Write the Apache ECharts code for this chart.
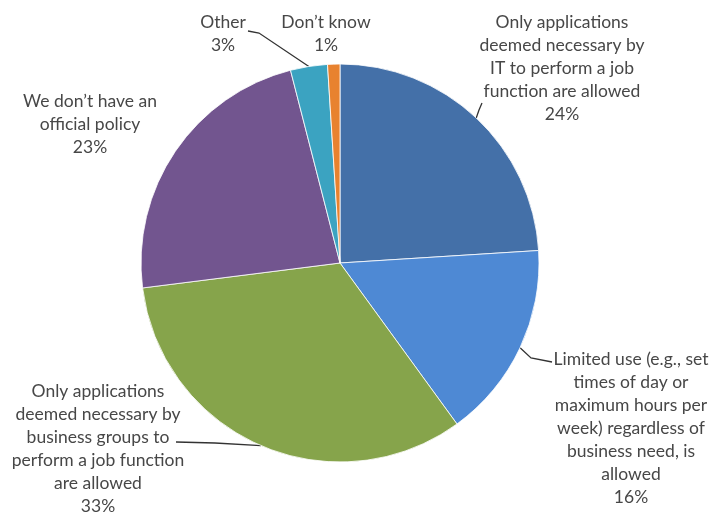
<!DOCTYPE html>
<html>
<head>
<meta charset="utf-8">
<script src="https://cdn.jsdelivr.net/npm/echarts@6/dist/echarts.min.js"></script>
<style>html,body{margin:0;padding:0;background:#fff;}#c{width:716px;height:514px;}</style>
</head>
<body>
<div id="c"></div>
<script>
var categories = [
  "Only applications\ndeemed necessary by\nIT to perform a job\nfunction are allowed",
  "Limited use (e.g., set\ntimes of day or\nmaximum hours per\nweek) regardless of\nbusiness need, is\nallowed",
  "Only applications\ndeemed necessary by\nbusiness groups to\nperform a job function\nare allowed",
  "We don\u2019t have an\nofficial policy",
  "Other",
  "Don\u2019t know"
];
var values = [24, 16, 33, 23, 3, 1];
var colors = ["#4470A8", "#4E89D4", "#86A44B", "#72558F", "#3BA3C1", "#E8822F"];
var showLine = [true, true, true, false, true, false];
// label block placement: [center x, top y]
var labelPos = [[562, 11], [631, 348], [98, 380], [90, 90], [223, 11], [326, 11]];
// label-line bend and end points (null = no line)
var lineBend = [[479, 110], [531, 358], [215, 443], [259, 33], null, null];
var lineEnd = [[482, 103], [552, 362], [176, 442], [248, 31], null, null];
lineBend = [lineBend[0], lineBend[1], lineBend[2], null, lineBend[3], null];
lineEnd = [lineEnd[0], lineEnd[1], lineEnd[2], null, lineEnd[3], null];

var chart = echarts.init(document.getElementById('c'));
chart.setOption({
  animation: false,
  series: [{
    type: 'pie',
    center: [340, 263],
    radius: 199,
    startAngle: 90,
    clockwise: true,
    avoidLabelOverlap: false,
    itemStyle: { borderColor: '#ffffff', borderWidth: 0.8 },
    label: {
      show: true,
      formatter: '{b}\n{c}%',
      fontFamily: 'Lato',
      fontSize: 17.5,
      lineHeight: 23,
      color: '#474747',
      align: 'center'
    },
    labelLine: { show: true, lineStyle: { color: '#333333', width: 1.3 }, length: 10, length2: 10 },
    labelLayout: function (p) {
      var i = p.dataIndex;
      var pos = labelPos[i];
      var out = { x: pos[0], y: pos[1], align: 'center', verticalAlign: 'top', hideOverlap: false };
      if (lineEnd[i] && p.labelLinePoints) {
        out.labelLinePoints = [p.labelLinePoints[0], lineBend[i], lineEnd[i]];
      }
      return out;
    },
    data: values.map(function (v, i) {
      return {
        name: categories[i],
        value: v,
        itemStyle: { color: colors[i] },
        labelLine: { show: showLine[i] }
      };
    })
  }]
});
</script>
</body>
</html>
